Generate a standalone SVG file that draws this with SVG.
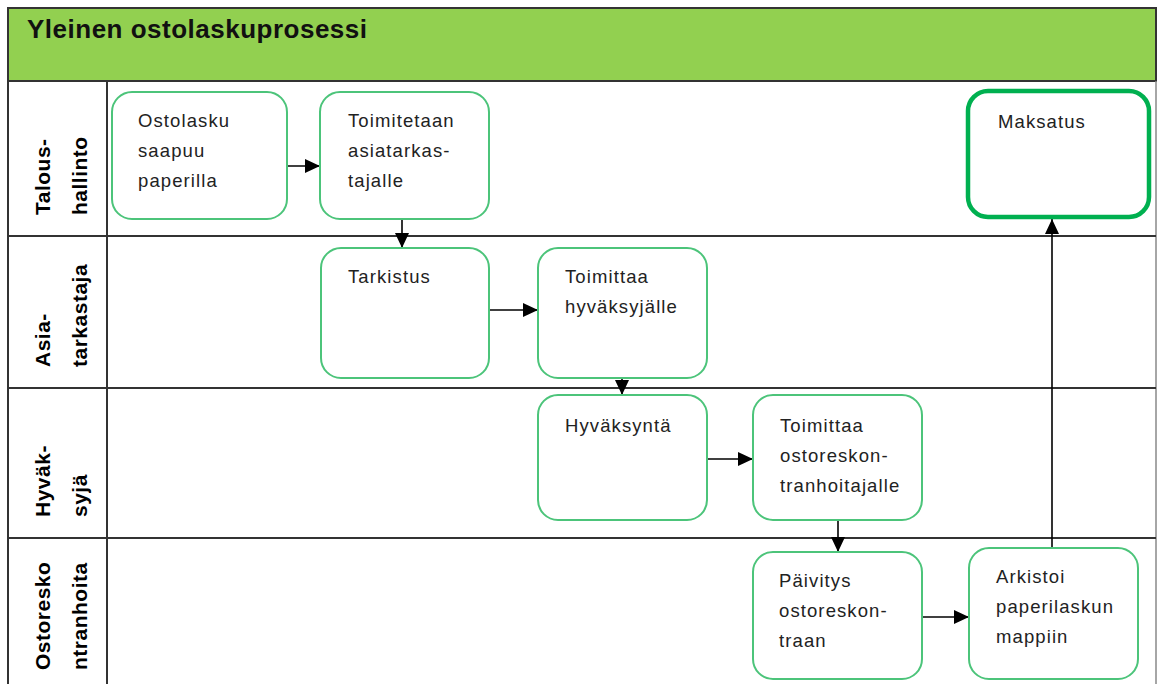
<svg xmlns="http://www.w3.org/2000/svg" width="1157" height="684" viewBox="0 0 1157 684">
<defs>
<marker id="arr" markerUnits="userSpaceOnUse" markerWidth="15" markerHeight="14" refX="15" refY="7" orient="auto">
<path d="M0,0 L15,7 L0,14 z" fill="#000"/>
</marker>
<style>
.lane{stroke:#333;stroke-width:2;fill:none}
.node{fill:#fff;stroke:#4cc47a;stroke-width:2}
.nodeb{fill:#fff;stroke:#00b050;stroke-width:4.5}
.t{font-family:"Liberation Sans",Arial,sans-serif;font-size:18.5px;letter-spacing:1.1px;fill:#222}
.lbl{font-family:"Liberation Sans",Arial,sans-serif;font-size:21px;font-weight:bold;fill:#000;letter-spacing:0.5px}
.title{font-family:"Liberation Sans",Arial,sans-serif;font-size:26px;font-weight:bold;fill:#111;letter-spacing:0.5px}
.c{stroke:#000;stroke-width:1.6;fill:none;marker-end:url(#arr)}
</style>
</defs>
<rect width="1157" height="684" fill="#fff"/>
<g id="frame">
<rect x="8" y="8" width="1148" height="73" fill="#92d050" stroke="#333" stroke-width="2"/>
<text class="title" x="27" y="38">Yleinen ostolaskuprosessi</text>
<line class="lane" x1="8" y1="81" x2="8" y2="684"/>
<line class="lane" x1="1156" y1="81" x2="1156" y2="684" style="stroke:#888;stroke-width:1.5"/>
<line class="lane" x1="107" y1="81" x2="107" y2="684"/>
<line class="lane" x1="8" y1="236" x2="1156" y2="236"/>
<line class="lane" x1="8" y1="388" x2="1156" y2="388"/>
<line class="lane" x1="8" y1="538" x2="1156" y2="538"/>
</g>
<g id="lane-talous">
<text class="lbl" transform="translate(50,215) rotate(-90)">Talous-</text>
<text class="lbl" transform="translate(87,215) rotate(-90)">hallinto</text>
</g>
<g id="lane-asia">
<text class="lbl" transform="translate(50,367) rotate(-90)">Asia-</text>
<text class="lbl" transform="translate(87,367) rotate(-90)">tarkastaja</text>
</g>
<g id="lane-hyvak">
<text class="lbl" transform="translate(50,517) rotate(-90)">Hyväk-</text>
<text class="lbl" transform="translate(87,517) rotate(-90)">syjä</text>
</g>
<g id="lane-ostoresk">
<text class="lbl" transform="translate(50,670) rotate(-90)">Ostoresko</text>
<text class="lbl" transform="translate(87,670) rotate(-90)">ntranhoita</text>
</g>
<g id="connectors">
<line class="c" x1="287" y1="166" x2="320" y2="166"/>
<line class="c" x1="402" y1="219" x2="402" y2="248"/>
<line class="c" x1="489" y1="310" x2="538" y2="310"/>
<line class="c" x1="622" y1="378" x2="622" y2="395"/>
<line class="c" x1="707" y1="459" x2="753" y2="459"/>
<line class="c" x1="838" y1="520" x2="838" y2="552"/>
<line class="c" x1="922" y1="617" x2="969" y2="617"/>
<line class="c" x1="1052" y1="548" x2="1052" y2="219"/>
</g>
<g id="n1">
<rect class="node" x="112" y="92" width="175" height="127" rx="20"/>
<text class="t" x="138" y="127">Ostolasku</text>
<text class="t" x="138" y="157">saapuu</text>
<text class="t" x="138" y="187">paperilla</text>
</g>
<g id="n2">
<rect class="node" x="320" y="92" width="169" height="127" rx="20"/>
<text class="t" x="348" y="127">Toimitetaan</text>
<text class="t" x="348" y="157">asiatarkas-</text>
<text class="t" x="348" y="187">tajalle</text>
</g>
<g id="n3">
<rect class="node" x="321" y="248" width="168" height="130" rx="20"/>
<text class="t" x="348" y="283">Tarkistus</text>
</g>
<g id="n4">
<rect class="node" x="538" y="248" width="169" height="130" rx="20"/>
<text class="t" x="565" y="283">Toimittaa</text>
<text class="t" x="565" y="313">hyväksyjälle</text>
</g>
<g id="n5">
<rect class="node" x="538" y="395" width="169" height="125" rx="20"/>
<text class="t" x="565" y="432">Hyväksyntä</text>
</g>
<g id="n6">
<rect class="node" x="753" y="395" width="169" height="125" rx="20"/>
<text class="t" x="780" y="432">Toimittaa</text>
<text class="t" x="780" y="462">ostoreskon-</text>
<text class="t" x="780" y="492">tranhoitajalle</text>
</g>
<g id="n7">
<rect class="node" x="753" y="552" width="169" height="127" rx="20"/>
<text class="t" x="779" y="587">Päivitys</text>
<text class="t" x="779" y="617">ostoreskon-</text>
<text class="t" x="779" y="647">traan</text>
</g>
<g id="n8">
<rect class="node" x="969" y="548" width="169" height="131" rx="20"/>
<text class="t" x="996" y="583">Arkistoi</text>
<text class="t" x="996" y="613">paperilaskun</text>
<text class="t" x="996" y="643">mappiin</text>
</g>
<g id="n9">
<rect class="nodeb" x="968" y="91" width="181" height="126" rx="20"/>
<text class="t" x="998" y="128">Maksatus</text>
</g>
</svg>
